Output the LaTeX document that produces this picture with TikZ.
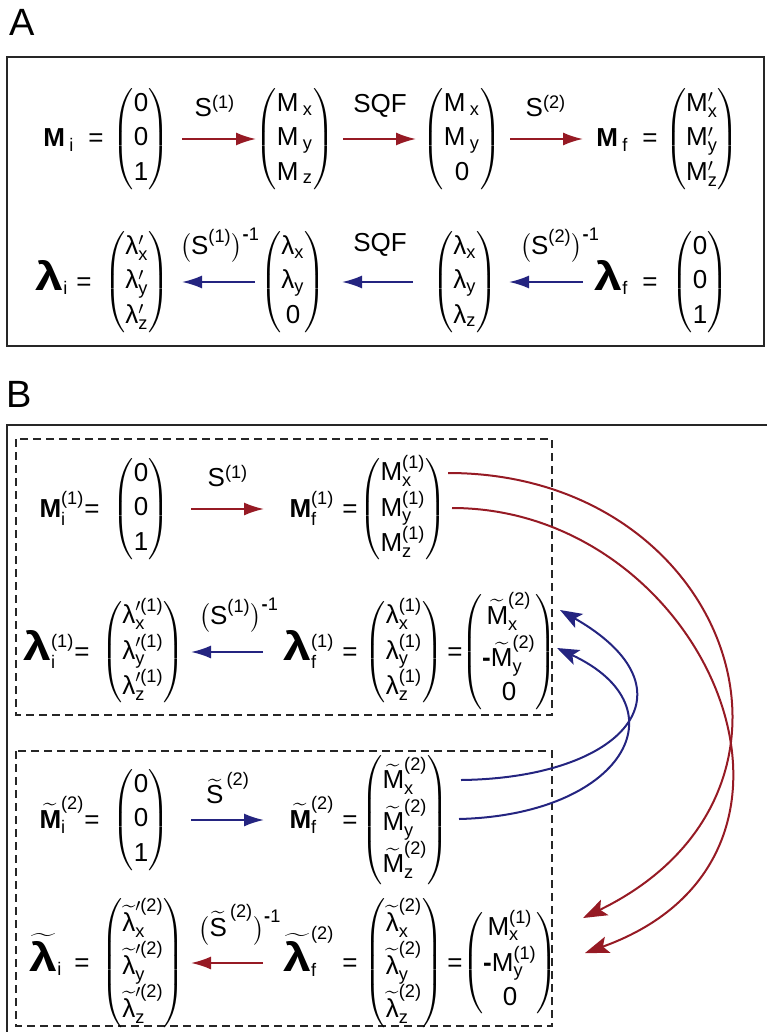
\documentclass[tikz,border=0pt]{standalone}
\usepackage{amsmath}
\usepackage{graphicx}
\usepackage{fontspec}
\setmainfont{Liberation Sans}
\usetikzlibrary{arrows.meta}

\definecolor{arrred}{RGB}{150,26,36}
\definecolor{arrblue}{RGB}{36,36,128}

\newcommand{\blam}{\scalebox{1.25}[1]{\fontsize{20}{20}\selectfont\textbf{λ}}}
\newcommand{\vc}[3]{$\begin{pmatrix}\text{#1}\\\text{#2}\\\text{#3}\end{pmatrix}$}
\renewcommand{\arraystretch}{1.1}

\begin{document}
\begin{tikzpicture}[x=0.5pt,y=-0.5pt,
    every node/.style={font=\fontsize{13}{15.6}\selectfont, inner sep=0pt},
    lhs/.style={anchor=base east},
    vec/.style={anchor=center},
    big/.style={font=\fontsize{19}{22}\selectfont},
    redarr/.style={arrred, line width=1pt, -{Latex[length=10pt,width=6.5pt]}},
    bluearr/.style={arrblue, line width=1pt, -{Latex[length=10pt,width=6.5pt]}},
    redcurve/.style={arrred, line width=1pt, -{Stealth[length=12pt,width=8.5pt,inset=2.5pt]}},
    bluecurve/.style={arrblue, line width=1pt, -{Stealth[length=11pt,width=8pt,inset=2.5pt]}},
    boxline/.style={line width=1.2pt, black!85},
    dashbox/.style={line width=1pt, black!85, dash pattern=on 4pt off 2.5pt}]
      \useasboundingbox (0,0) rectangle (767,1032);

      % panel A
      \node[big] (labA) at (22,22) {A};
      \draw[boxline] (7,57) rectangle (764,346);

      \node[lhs] (Mi) at (104,147) {\textbf{M}\,$_\text{i}$\hspace{7pt}=};
      \node[vec] (vA1) at (141,139) {\vc{0}{0}{1}};
      \node (lA1) at (215,106) {S$^\text{(1)}$};
      \node[vec] (vA2) at (295,139) {\vc{M\,$_\text{x}$}{M\,$_\text{y}$}{M\,$_\text{z}$}};
      \node (lA2) at (380,106) {SQF};
      \node[vec] (vA3) at (462,139) {\vc{M\,$_\text{x}$}{M\,$_\text{y}$}{0}};
      \node (lA3) at (546,106) {S$^\text{(2)}$};
      \node[lhs] (Mf) at (658,147) {\textbf{M}\,$_\text{f}$\hspace{7pt}=};
      \node[vec] (vA4) at (702,139) {\vc{M$^{\prime}_\text{x}$}{M$^{\prime}_\text{y}$}{M$^{\prime}_\text{z}$}};

      \node[lhs] (Li) at (92,290) {\blam$_\text{i}$\hspace{4pt}=};
      \node[vec] (vA5) at (137,282) {\vc{λ$^{\prime}_\text{x}$}{λ$^{\prime}_\text{y}$}{λ$^{\prime}_\text{z}$}};
      \node (lA4) at (220,245) {$\bigl(\text{S}^{\text{(1)}}\bigr)^{\text{\textbf{-}1}}$};
      \node[vec] (vA6) at (293,282) {\vc{λ$_\text{x}$}{λ$_\text{y}$}{0}};
      \node (lA5) at (380,245) {SQF};
      \node[vec] (vA7) at (465,282) {\vc{λ$_\text{x}$}{λ$_\text{y}$}{λ$_\text{z}$}};
      \node (lA6) at (560,245) {$\bigl(\text{S}^{\text{(2)}}\bigr)^{\text{\textbf{-}1}}$};
      \node[lhs] (Lf) at (658,290) {\blam$_\text{f}$\hspace{7pt}=};
      \node[vec] (vA8) at (700,282) {\vc{0}{0}{1}};

      \coordinate (a1) at (182,139); \coordinate (b1) at (256,139);
      \coordinate (a2) at (343,139); \coordinate (b2) at (416,139);
      \coordinate (a3) at (510,139); \coordinate (b3) at (583,139);
      \coordinate (a4) at (255,282); \coordinate (b4) at (182,282);
      \coordinate (a5) at (413,282); \coordinate (b5) at (342,282);
      \coordinate (a6) at (583,282); \coordinate (b6) at (509,282);
      \draw[redarr] (a1) -- (b1);
      \draw[redarr] (a2) -- (b2);
      \draw[redarr] (a3) -- (b3);
      \draw[bluearr] (a4) -- (b4);
      \draw[bluearr] (a5) -- (b5);
      \draw[bluearr] (a6) -- (b6);

      % panel B
      \node[big] (labB) at (19,394) {B};
      \draw[boxline] (7,1032) -- (7,425) -- (767,425);
      \draw[dashbox] (16,439) rectangle (552,715);
      \draw[dashbox] (16,751) rectangle (552,1026);

      \node[lhs] (Mi1) at (100,517) {\textbf{M}$^{\text{(1)}}_\text{i}$=};
      \node[vec] (vB1) at (141,509) {\vc{0}{0}{1}};
      \node (lB1) at (228,476) {S$^{\text{(1)}}$};
      \node[lhs] (Mf1) at (358,517) {\textbf{M}$^{\text{(1)}}_\text{f}$\hspace{4pt}=};
      \node[vec] (vB2) at (403,509) {\vc{M$^{\text{(1)}}_\text{x}$}{M$^{\text{(1)}}_\text{y}$}{M$^{\text{(1)}}_\text{z}$}};

      \node[lhs] (Li1) at (90,660) {\blam$^{\text{(1)}}_\text{i}$=};
      \node[vec] (vB3) at (143,652) {\vc{λ$^{\prime\text{(1)}}_\text{x}$}{λ$^{\prime\text{(1)}}_\text{y}$}{λ$^{\prime\text{(1)}}_\text{z}$}};
      \node (lB2) at (239,615) {$\bigl(\text{S}^{\text{(1)}}\bigr)^{\text{\textbf{-}1}}$};
      \node[lhs] (Lf1) at (358,660) {\blam$^{\text{(1)}}_\text{f}$\hspace{4pt}=};
      \node[vec] (vB4) at (404,652) {\vc{λ$^{\text{(1)}}_\text{x}$}{λ$^{\text{(1)}}_\text{y}$}{λ$^{\text{(1)}}_\text{z}$}};
      \node[anchor=base] (eB1) at (455,660) {=};
      \node[vec] (vB5) at (509,652) {\vc{$\widetilde{\text{M}}^{\text{(2)}}_\text{x}$}{\textbf{-}$\widetilde{\text{M}}^{\text{(2)}}_\text{y}$}{0}};

      \node[lhs] (Mi2) at (100,828) {$\widetilde{\textbf{M}}^{\text{(2)}}_\text{i}$=};
      \node[vec] (vB6) at (141,820) {\vc{0}{0}{1}};
      \node (lB3) at (228,788) {$\widetilde{\text{S}}^{\,\text{(2)}}$};
      \node[lhs] (Mf2) at (358,828) {$\widetilde{\textbf{M}}^{\text{(2)}}_\text{f}$\hspace{4pt}=};
      \node[vec] (vB7) at (405,820) {\vc{$\widetilde{\text{M}}^{\text{(2)}}_\text{x}$}{$\widetilde{\text{M}}^{\text{(2)}}_\text{y}$}{$\widetilde{\text{M}}^{\text{(2)}}_\text{z}$}};

      \node[lhs] (Li2) at (90,971) {$\widetilde{\text{\blam}}_\text{i}$\hspace{6pt}=};
      \node[vec] (vB8) at (143,963) {\vc{$\widetilde{\text{λ}}^{\prime\text{(2)}}_\text{x}$}{$\widetilde{\text{λ}}^{\prime\text{(2)}}_\text{y}$}{$\widetilde{\text{λ}}^{\prime\text{(2)}}_\text{z}$}};
      \node (lB4) at (240,925) {$\bigl(\widetilde{\text{S}}^{\,\text{(2)}}\bigr)^{\text{\textbf{-}1}}$};
      \node[lhs] (Lf2) at (358,971) {$\widetilde{\text{\blam}}^{\text{(2)}}_\text{f}$\hspace{4pt}=};
      \node[vec] (vB9) at (404,963) {\vc{$\widetilde{\text{λ}}^{\text{(2)}}_\text{x}$}{$\widetilde{\text{λ}}^{\text{(2)}}_\text{y}$}{$\widetilde{\text{λ}}^{\text{(2)}}_\text{z}$}};
      \node[anchor=base] (eB2) at (455,971) {=};
      \node[vec] (vB10) at (510,963) {\vc{M$^{\text{(1)}}_\text{x}$}{\textbf{-}M$^{\text{(1)}}_\text{y}$}{0}};

      \coordinate (c1) at (191,509); \coordinate (d1) at (264,509);
      \coordinate (c2) at (263,652); \coordinate (d2) at (191,652);
      \coordinate (c3) at (191,820); \coordinate (d3) at (264,820);
      \coordinate (c4) at (263,963); \coordinate (d4) at (191,963);
      \draw[redarr] (c1) -- (d1);
      \draw[bluearr] (c2) -- (d2);
      \draw[bluearr] (c3) -- (d3);
      \draw[redarr] (c4) -- (d4);

      % swapped components
      \coordinate (r1s) at (448,473); \coordinate (r1e) at (583,918);
      \coordinate (r2s) at (452,508); \coordinate (r2e) at (585,953);
      \coordinate (u1s) at (461,780); \coordinate (u1e) at (560,610);
      \coordinate (u2s) at (459,819); \coordinate (u2e) at (557,648);
      \draw[redcurve] (r1s) .. controls (730,473) and (842,792) .. (r1e);
      \draw[redcurve] (r2s) .. controls (706,508) and (856,856) .. (r2e);
      \draw[bluecurve] (u1s) .. controls (625,778) and (700,690) .. (u1e);
      \draw[bluecurve] (u2s) .. controls (622,815) and (685,708) .. (u2e);
    \end{tikzpicture}
\end{document}
